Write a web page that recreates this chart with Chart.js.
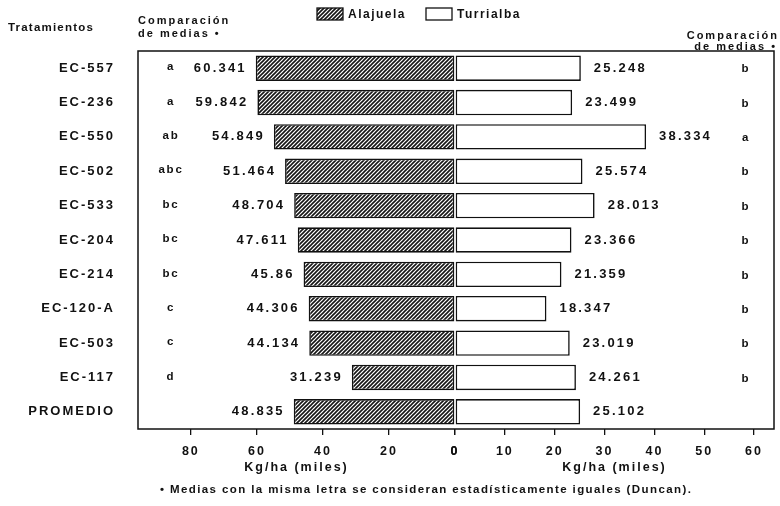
<!DOCTYPE html>
<html>
<head>
<meta charset="utf-8">
<script src="https://cdn.jsdelivr.net/npm/chart.js@4/dist/chart.umd.min.js"></script>
<style>
  html, body { margin: 0; padding: 0; background: #fff; }
  #wrap { position: relative; width: 780px; height: 506px; }
</style>
</head>
<body>
<div id="wrap"><canvas id="c" width="780" height="506"></canvas></div>
<script>
// Yield per treatment, thousands of kg/ha
const categories = ['EC-557', 'EC-236', 'EC-550', 'EC-502', 'EC-533', 'EC-204', 'EC-214', 'EC-120-A', 'EC-503', 'EC-117', 'PROMEDIO'];
const alajuela = [60.341, 59.842, 54.849, 51.464, 48.704, 47.611, 45.86, 44.306, 44.134, 31.239, 48.835];
const turrialba = [25.248, 23.499, 38.334, 25.574, 28.013, 23.366, 21.359, 18.347, 23.019, 24.261, 25.102];
// Duncan groupings for each site
const letrasAlajuela = ['a', 'a', 'ab', 'abc', 'bc', 'bc', 'bc', 'c', 'c', 'd', ''];
const letrasTurrialba = ['b', 'b', 'a', 'b', 'b', 'b', 'b', 'b', 'b', 'b', ''];
// Axis ticks
const ticksAlajuela = [0, 20, 40, 60, 80];
const ticksTurrialba = [0, 10, 20, 30, 40, 50, 60];

const FONT = "'Liberation Sans', Arial, sans-serif";
const INK = '#111';

const canvas = document.getElementById('c');
const ctx = canvas.getContext('2d');

// diagonal hatching for the Alajuela bars
function makeHatch() {
  const p = document.createElement('canvas');
  p.width = 4; p.height = 4;
  const g = p.getContext('2d');
  g.fillStyle = '#fff';
  g.fillRect(0, 0, 4, 4);
  g.strokeStyle = '#151515';
  g.lineWidth = 1.6;
  g.beginPath();
  g.moveTo(-1, 5); g.lineTo(5, -1);
  g.moveTo(-1, 1); g.lineTo(1, -1);
  g.moveTo(3, 5); g.lineTo(5, 3);
  g.stroke();
  return ctx.createPattern(p, 'repeat');
}
const hatch = makeHatch();

function txt(c, s, x, y, align, size, spacing) {
  c.font = 'bold ' + size + 'px ' + FONT;
  c.letterSpacing = spacing + 'px';
  c.textAlign = align;
  c.textBaseline = 'middle';
  c.fillStyle = INK;
  c.fillText(s, x, y);
}

const annotations = {
  id: 'annotations',
  beforeDraw(chart) {
    chart.ctx.letterSpacing = '2px';
  },
  afterDatasetsDraw(chart) {
    const c = chart.ctx;
    const a = chart.chartArea;
    c.save();
    // frame around the plot
    c.strokeStyle = INK;
    c.lineWidth = 1.5;
    c.strokeRect(a.left, a.top, a.right - a.left, a.bottom - a.top);

    const mL = chart.getDatasetMeta(0).data;
    const mR = chart.getDatasetMeta(1).data;
    for (let i = 0; i < categories.length; i++) {
      const bl = mL[i], br = mR[i];
      txt(c, String(alajuela[i]), bl.x - 9, bl.y, 'right', 13, 2.2);
      txt(c, String(turrialba[i]), br.x + 13, br.y, 'left', 13, 2.2);
      if (letrasAlajuela[i]) txt(c, letrasAlajuela[i], 171, bl.y - 1, 'center', 11.5, 1.8);
      if (letrasTurrialba[i]) txt(c, letrasTurrialba[i], 746, br.y + 1, 'center', 11.5, 1.8);
    }

    // headers
    txt(c, 'Tratamientos', 8, 28, 'left', 11.5, 1.2);
    txt(c, 'Comparación', 138, 21, 'left', 11, 2);
    txt(c, 'de medias •', 138, 34, 'left', 11, 2);
    txt(c, 'Comparación', 779, 36, 'right', 11, 2);
    txt(c, 'de medias •', 777, 47, 'right', 11, 2);

    // legend
    c.fillStyle = hatch;
    c.fillRect(317, 8, 26, 12);
    c.strokeStyle = INK;
    c.lineWidth = 1.3;
    c.strokeRect(317, 8, 26, 12);
    txt(c, 'Alajuela', 348, 15, 'left', 12, 1.5);
    c.fillStyle = '#fff';
    c.fillRect(426, 8, 26, 12);
    c.strokeRect(426, 8, 26, 12);
    txt(c, 'Turrialba', 457, 15, 'left', 12, 1.5);

    // footnote
    txt(c, '• Medias con la misma letra se consideran estadísticamente iguales (Duncan).', 160, 490, 'left', 11.5, 1.4);
    c.restore();
  }
};

const tickFont = { family: FONT, size: 12.5, weight: 'bold' };
const catFont = { family: FONT, size: 13, weight: 'bold' };

new Chart(ctx, {
  type: 'bar',
  data: {
    labels: categories,
    datasets: [
      {
        label: 'Alajuela',
        data: alajuela,
        xAxisID: 'xL',
        backgroundColor: hatch,
        borderColor: INK,
        borderWidth: 1.6,
        borderSkipped: false,
        grouped: false,
        barPercentage: 0.74,
        categoryPercentage: 1
      },
      {
        label: 'Turrialba',
        data: turrialba,
        xAxisID: 'xR',
        backgroundColor: '#fff',
        borderColor: INK,
        borderWidth: 1.6,
        borderSkipped: false,
        grouped: false,
        barPercentage: 0.74,
        categoryPercentage: 1
      }
    ]
  },
  options: {
    indexAxis: 'y',
    responsive: false,
    animation: false,
    layout: { padding: { left: 0, right: 6, top: 51, bottom: 30 } },
    plugins: { legend: { display: false }, tooltip: { enabled: false } },
    scales: {
      y: {
        position: 'left',
        grid: { display: false, drawTicks: false },
        border: { display: false },
        ticks: { padding: 23, color: INK, font: catFont },
        afterFit(s) { s.width = 138; }
      },
      xL: {
        type: 'linear',
        position: 'bottom',
        stack: 'ejes',
        stackWeight: 317,
        reverse: true,
        min: 0,
        max: 96,
        afterBuildTicks(s) { s.ticks = ticksAlajuela.map(v => ({ value: v })); },
        grid: { drawOnChartArea: false, drawTicks: true, tickLength: 6, color: INK, lineWidth: 1.3 },
        border: { display: false },
        ticks: { padding: 9, color: INK, font: tickFont, maxRotation: 0 },
        title: { display: true, text: 'Kg/ha (miles)', color: INK, font: tickFont, padding: { top: 0, bottom: 1 } },
        afterFit(s) { s.height = 47; }
      },
      xR: {
        type: 'linear',
        position: 'bottom',
        stack: 'ejes',
        stackWeight: 319,
        min: 0,
        max: 64,
        afterBuildTicks(s) { s.ticks = ticksTurrialba.map(v => ({ value: v })); },
        grid: { drawOnChartArea: false, drawTicks: true, tickLength: 6, color: INK, lineWidth: 1.3 },
        border: { display: false },
        ticks: { padding: 9, color: INK, font: tickFont, maxRotation: 0 },
        title: { display: true, text: 'Kg/ha (miles)', color: INK, font: tickFont, padding: { top: 0, bottom: 1 } },
        afterFit(s) { s.height = 47; }
      }
    }
  },
  plugins: [annotations]
});
</script>
</body>
</html>
